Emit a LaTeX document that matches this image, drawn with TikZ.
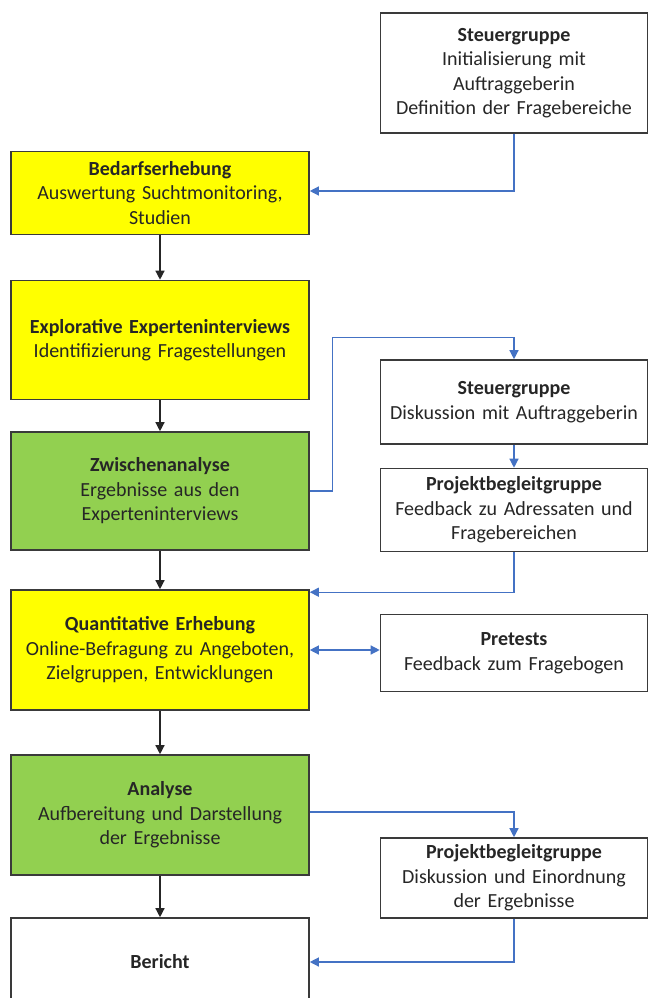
\documentclass[tikz,border=0pt]{standalone}
\usepackage{fontspec}
\setmainfont{Carlito}
\usetikzlibrary{arrows.meta}
\definecolor{gelb}{HTML}{FFFF00}
\definecolor{gruen}{HTML}{92D050}
\definecolor{linie}{HTML}{4472C4}
\definecolor{rand}{HTML}{3A3A3A}
\tikzset{box/.style={draw=rand, line width=1.6pt, align=center, inner xsep=4pt, inner ysep=0pt,
    font=\fontsize{20}{24.5}\selectfont, text=black!85},
  links/.style={box, text width=290pt, minimum width=298pt},
  rechts/.style={box, text width=259pt, minimum width=267pt, fill=white},
  gelbbox/.style={links, fill=gelb},
  gruenbox/.style={links, fill=gruen},
  weissbox/.style={links, fill=white},
  flow/.style={draw=black!85, line width=1.3pt, -{Triangle[length=9pt,width=9pt]}},
  rueck/.style={draw=linie, line width=1.3pt, -{Triangle[length=9pt,width=9pt]}}}

\begin{document}
\begin{tikzpicture}[x=1pt,y=-1pt]
   \useasboundingbox (0,0) rectangle (648,998);

   \node[rechts, minimum height=120pt] (steuerA) at (514,73)
     {\textbf{Steuergruppe}\\Initialisierung mit\\Auftraggeberin\\Definition der Fragebereiche};
   \node[gelbbox, minimum height=83pt] (bedarf) at (160,193)
     {\textbf{Bedarfserhebung}\\Auswertung Suchtmonitoring,\\Studien};
   \node[gelbbox, minimum height=119pt] (explor) at (160,340)
     {\textbf{Explorative Experteninterviews}\\Identifizierung Fragestellungen};
   \node[gruenbox, minimum height=118pt] (zwischen) at (160,491)
     {\textbf{Zwischenanalyse}\\Ergebnisse aus den\\Experteninterviews};
   \node[rechts, minimum height=84pt] (steuerB) at (514,402)
     {\textbf{Steuergruppe}\\Diskussion mit Auftraggeberin};
   \node[rechts, minimum height=83pt] (projektA) at (514,510)
     {\textbf{Projektbegleitgruppe}\\Feedback zu Adressaten und\\Fragebereichen};
   \node[gelbbox, minimum height=120pt] (quant) at (160,650)
     {\textbf{Quantitative Erhebung}\\Online-Befragung zu Angeboten,\\Zielgruppen, Entwicklungen};
   \node[rechts, minimum height=77pt] (pretests) at (514,653)
     {\textbf{Pretests}\\Feedback zum Fragebogen};
   \node[gruenbox, minimum height=120pt] (analyse) at (160,815)
     {\textbf{Analyse}\\Aufbereitung und Darstellung\\der Ergebnisse};
   \node[rechts, minimum height=80pt] (projektB) at (514,878)
     {\textbf{Projektbegleitgruppe}\\Diskussion und Einordnung\\der Ergebnisse};
   \node[weissbox, minimum height=88pt] (bericht) at (160,962)
     {\textbf{Bericht}};

   \draw[flow] (bedarf) -- (explor);
   \draw[flow] (explor) -- (zwischen);
   \draw[flow] (zwischen) -- (quant);
   \draw[flow] (quant) -- (analyse);
   \draw[flow] (analyse) -- (bericht);

   \draw[rueck] (steuerA.south) |- ([yshift=2pt]bedarf.east);
   \draw[rueck] (zwischen.east) -- ++(23,0) |- ([yshift=22pt]steuerB.north) -- (steuerB.north);
   \draw[rueck] (steuerB) -- (projektA);
   \draw[rueck] (projektA.south) |- ([yshift=-3pt]quant.north east);
   \draw[rueck, {Triangle[length=9pt,width=9pt]}-{Triangle[length=9pt,width=9pt]}] (quant.east) -- (quant.east -| pretests.west);
   \draw[rueck] ([yshift=3pt]analyse.east) -| (projektB.north);
   \draw[rueck] (projektB.south) |- (bericht.east);
\end{tikzpicture}
\end{document}
